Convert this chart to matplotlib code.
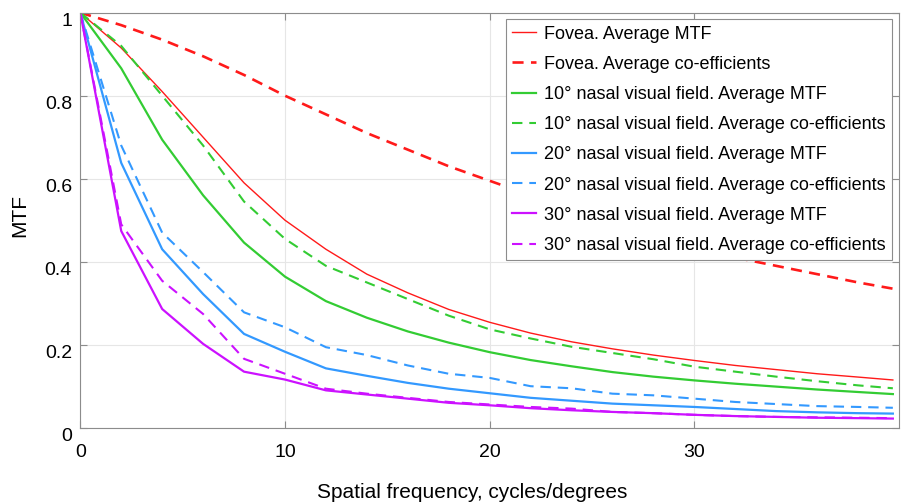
import matplotlib
matplotlib.use("Agg")
import matplotlib.pyplot as plt
import matplotlib.transforms as mtransforms

plt.rcParams['font.family'] = ['Liberation Sans', 'DejaVu Sans']

freq = [0, 2, 4, 6, 8, 10, 12, 14, 16, 18, 20, 22, 24, 26, 28, 30, 32, 34, 36, 38, 39.7]

fovea_mtf = [1.0, 0.915, 0.81, 0.70, 0.59, 0.50, 0.43, 0.37, 0.325, 0.285, 0.254, 0.228, 0.207,
             0.19, 0.175, 0.162, 0.15, 0.14, 0.13, 0.122, 0.115]
fovea_coef = [1.0, 0.97, 0.935, 0.895, 0.85, 0.80, 0.755, 0.71, 0.67, 0.63, 0.595, 0.56, 0.53,
              0.50, 0.465, 0.435, 0.41, 0.39, 0.37, 0.35, 0.335]
n10_mtf = [1.0, 0.866, 0.694, 0.56, 0.446, 0.364, 0.305, 0.265, 0.232, 0.205, 0.182, 0.163, 0.148,
           0.134, 0.123, 0.114, 0.106, 0.099, 0.092, 0.086, 0.081]
n10_coef = [1.0, 0.92, 0.80, 0.68, 0.545, 0.455, 0.39, 0.35, 0.31, 0.27, 0.237, 0.215, 0.195,
            0.18, 0.165, 0.147, 0.135, 0.123, 0.112, 0.102, 0.095]
n20_mtf = [1.0, 0.638, 0.43, 0.322, 0.226, 0.183, 0.143, 0.125, 0.108, 0.094, 0.083, 0.072, 0.065,
           0.058, 0.054, 0.05, 0.045, 0.04, 0.037, 0.035, 0.034]
n20_coef = [1.0, 0.68, 0.47, 0.375, 0.278, 0.242, 0.194, 0.175, 0.15, 0.13, 0.12, 0.10, 0.095,
            0.082, 0.078, 0.07, 0.062, 0.057, 0.052, 0.05, 0.048]
n30_mtf = [1.0, 0.474, 0.286, 0.202, 0.135, 0.116, 0.09, 0.08, 0.07, 0.06, 0.054, 0.047, 0.042,
           0.038, 0.035, 0.031, 0.028, 0.026, 0.024, 0.023, 0.022]
n30_coef = [1.0, 0.49, 0.354, 0.274, 0.166, 0.13, 0.094, 0.082, 0.072, 0.062, 0.056, 0.05, 0.046,
            0.038, 0.035, 0.031, 0.028, 0.026, 0.025, 0.024, 0.023]

labels = ["Fovea. Average MTF", "Fovea. Average co-efficients",
          "10° nasal visual field. Average MTF", "10° nasal visual field. Average co-efficients",
          "20° nasal visual field. Average MTF", "20° nasal visual field. Average co-efficients",
          "30° nasal visual field. Average MTF", "30° nasal visual field. Average co-efficients"]

x_ticks = [0, 10, 20, 30]
y_ticks = [0, 0.2, 0.4, 0.6, 0.8, 1.0]
y_ticklabels = ["0", "0.2", "0.4", "0.6", "0.8", "1"]

red = "#ff1a1a"
green = "#33cc33"
blue = "#3399ff"
purple = "#cc11ff"

fig = plt.figure(figsize=(9.04, 5.03), dpi=100)
ax = fig.add_axes([80.3 / 904, 1 - 427.7 / 503, (899 - 80.3) / 904, (427.7 - 12.7) / 503])

ax.plot(freq, fovea_mtf, color=red, lw=1.0, label=labels[0])
ax.plot(freq, fovea_coef, color=red, lw=1.9, ls=(0, (4.2, 2.8)), label=labels[1])
ax.plot(freq, n10_mtf, color=green, lw=1.6, label=labels[2])
ax.plot(freq, n10_coef, color=green, lw=1.5, ls=(0, (5, 3.3)), label=labels[3])
ax.plot(freq, n20_mtf, color=blue, lw=1.6, label=labels[4])
ax.plot(freq, n20_coef, color=blue, lw=1.5, ls=(0, (5, 3.3)), label=labels[5])
ax.plot(freq, n30_mtf, color=purple, lw=1.6, label=labels[6])
ax.plot(freq, n30_coef, color=purple, lw=1.5, ls=(0, (5, 3.3)), label=labels[7])

ax.set_xlim(0, 40)
ax.set_ylim(0, 1)
ax.set_xticks(x_ticks)
ax.set_yticks(y_ticks)
ax.set_yticklabels(y_ticklabels)
ax.grid(True, color="#e6e6e6", lw=0.8)
ax.set_axisbelow(True)
for s in ax.spines.values():
    s.set_color("#8c8c8c")
    s.set_linewidth(0.8)
ax.tick_params(direction="in", length=5, width=0.8, color="#8c8c8c", top=True, right=True,
               labelsize=14, labelcolor="black")
ax.tick_params(axis="x", pad=12)
ax.tick_params(axis="y", pad=6)

shift = mtransforms.ScaledTranslation(0, -5 / 72, fig.dpi_scale_trans)
for lab in ax.get_yticklabels():
    lab.set_transform(lab.get_transform() + shift)

ax.set_xlabel("Spatial frequency, cycles/degrees", fontsize=15)
ax.xaxis.set_label_coords(0.479, -0.133)
ax.set_ylabel("MTF", fontsize=15)
ax.yaxis.set_label_coords(-0.062, 0.512)

leg = ax.legend(loc="upper right", bbox_to_anchor=((892.3 - 80.3) / 818.7, (427.7 - 19.3) / 415),
                fontsize=13, handlelength=1.35, handletextpad=0.45, labelspacing=0.73,
                borderpad=0.35, borderaxespad=0, fancybox=False, framealpha=1)
leg.get_frame().set_edgecolor("#8c8c8c")
leg.get_frame().set_linewidth(0.8)

fig.savefig("out.png", dpi=100)
